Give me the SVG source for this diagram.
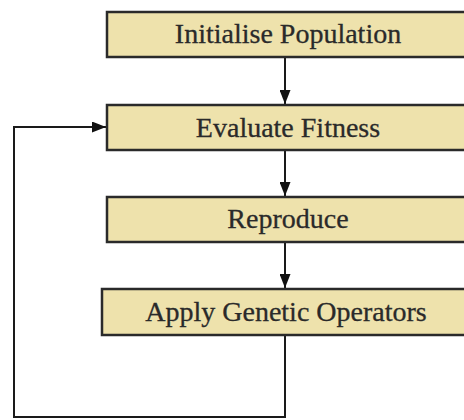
<svg xmlns="http://www.w3.org/2000/svg" width="464" height="420" viewBox="0 0 464 420">
<style>
.box{fill:#EEE2AC;stroke:#2a2a2a;stroke-width:2.5}
.lbl{font-family:"Liberation Serif","Times New Roman",serif;font-size:28px;fill:#2a2a2a;stroke:#2a2a2a;stroke-width:0.3;text-anchor:middle}
.con{fill:none;stroke:#1a1a1a;stroke-width:2}
</style>
<defs>
<marker id="ah" markerWidth="14" markerHeight="11" refX="14" refY="5.5" orient="auto" markerUnits="userSpaceOnUse">
<path d="M0,0 L14,5.5 L0,11 Z" fill="#111"/>
</marker>
</defs>
<rect width="464" height="420" fill="#ffffff"/>
<g id="connectors">
<line class="con" x1="285" y1="58" x2="285" y2="104" marker-end="url(#ah)"/>
<line class="con" x1="285" y1="151" x2="285" y2="196" marker-end="url(#ah)"/>
<line class="con" x1="285" y1="243" x2="285" y2="288" marker-end="url(#ah)"/>
<polyline class="con" points="285,335 285,417 14,417 14,127 106,127" marker-end="url(#ah)"/>
</g>
<g id="n1"><rect class="box" x="107" y="12" width="370" height="45"/><text class="lbl" x="288" y="43">Initialise Population</text></g>
<g id="n2"><rect class="box" x="107" y="105" width="370" height="45"/><text class="lbl" x="288" y="137">Evaluate Fitness</text></g>
<g id="n3"><rect class="box" x="107" y="197" width="370" height="45"/><text class="lbl" x="288" y="228">Reproduce</text></g>
<g id="n4"><rect class="box" x="102" y="289" width="375" height="46"/><text class="lbl" x="286" y="321">Apply Genetic Operators</text></g>
</svg>
